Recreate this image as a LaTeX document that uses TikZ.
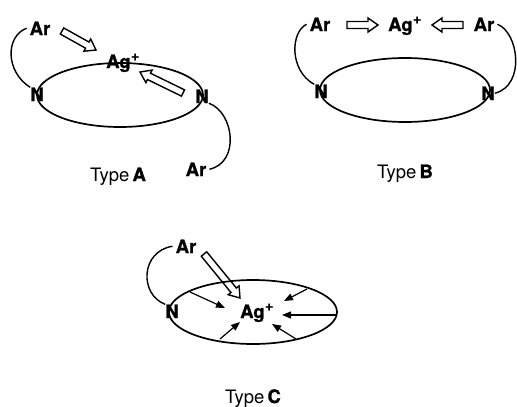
\documentclass[tikz,border=0pt]{standalone}
\usepackage{fontspec}
\setmainfont{TeX Gyre Heros}[BoldFeatures={FakeBold=1.2}]
\usetikzlibrary{calc,arrows.meta}
\tikzset{
  lbl/.style={inner sep=0pt, anchor=base, font=\fontsize{18.5}{18}\selectfont\bfseries},
  arlbl/.style={lbl, inner sep=3pt},
  typelbl/.style={inner sep=0pt, anchor=base, font=\fontsize{18.5}{18}\selectfont},
  ring/.style={line width=1.7pt},
  arm/.style={line width=1.4pt},
  hollow/.style={line width=1.4pt, line join=miter},
  push/.style={line width=1.2pt, -{Triangle[length=9pt,width=7pt]}},
}
\newcommand\agplus{Ag\hspace{0.5pt}\raisebox{7.5pt}{\fontsize{14}{14}\selectfont\bfseries +}}
% hollow arrow from #1 (tail) to #2 (tip)
\newcommand\harrow[2]{%
  \coordinate (hc) at ($(#2)!10pt!(#1)$);
  \draw[hollow] ($(#1)!3.5pt!90:(#2)$) -- ($(hc)!3.5pt!90:(#2)$) -- ($(hc)!7pt!90:(#2)$)
    -- (#2) -- ($(hc)!7pt!-90:(#2)$) -- ($(hc)!3.5pt!-90:(#2)$) -- ($(#1)!3.5pt!-90:(#2)$) -- cycle;}
\begin{document}
\begin{tikzpicture}[x=1pt,y=-1pt]
\useasboundingbox (0,0) rectangle (517,407);
% ---------------- Type A
\draw[ring] (120,95) ellipse [x radius=83, y radius=32];
\node[arlbl] (arA1) at (40,35) {Ar};
\node[lbl, anchor=base west] (agA) at (106,68) {\agplus};
\node[lbl] (nA1) at (37,101) {N};
\node[lbl] (nA2) at (202,103) {N};
\node[arlbl] (arA2) at (196,176) {Ar};
\node[typelbl] (tA) at (118,181) {Type\hspace{-2pt} \textbf{A}};
\draw[arm] (arA1.west) .. controls +(-21,8) and +(-25,-16) .. (nA1.north west);
\draw[arm] (nA2.south east) .. controls +(25,9) and +(31,-7) .. (arA2.east);
\coordinate (hA1t) at (62,31); \coordinate (hA1h) at (96,50);
\coordinate (hA2t) at (183,93); \coordinate (hA2h) at (140,72);
\harrow{hA1t}{hA1h}
\harrow{hA2t}{hA2h}
% ---------------- Type B
\draw[ring] (405,90) ellipse [x radius=85, y radius=32];
\node[arlbl] (arB1) at (320,31) {Ar};
\node[lbl, anchor=base west] (agB) at (388,31) {\agplus};
\node[arlbl] (arB2) at (484,31) {Ar};
\node[lbl] (nB1) at (321,98) {N};
\node[lbl] (nB2) at (488,100) {N};
\node[typelbl] (tB) at (405,178) {Type\hspace{-2pt} \textbf{B}};
\draw[arm] (arB1.west) .. controls +(-16,8) and +(-25,-14) .. (nB1.north west);
\draw[arm] (arB2.east) .. controls +(21,8) and +(31,-8) .. (nB2.east);
\coordinate (hB1t) at (347,25); \coordinate (hB1h) at (378,25);
\coordinate (hB2t) at (463,25); \coordinate (hB2h) at (432,25);
\harrow{hB1t}{hB1h}
\harrow{hB2t}{hB2h}
% ---------------- Type C
\draw[ring] (253,312) ellipse [x radius=84, y radius=32];
\node[arlbl] (arC) at (186,253) {Ar};
\node[lbl, anchor=base west] (agC) at (240,318) {\agplus};
\node[lbl] (nC) at (172,318) {N};
\node[typelbl] (tC) at (253,403) {Type\hspace{-2pt} \textbf{C}};
\draw[arm] (arC.west) .. controls +(-32,5) and +(-26,-10) .. (nC.north west);
\coordinate (hCt) at (204,254); \coordinate (hCh) at (240,298);
\harrow{hCt}{hCh}
\coordinate (e1) at (190,292); \coordinate (p1) at (225,308);
\coordinate (e2) at (307,289); \coordinate (p2) at (284,301);
\coordinate (e3) at (337,315); \coordinate (p3) at (282,315);
\coordinate (e4) at (296,339); \coordinate (p4) at (272,324);
\coordinate (e5) at (220,339); \coordinate (p5) at (240,322);
\draw[push] (e1) -- (p1);
\draw[push] (e2) -- (p2);
\draw[push] (e3) -- (p3);
\draw[push] (e4) -- (p4);
\draw[push] (e5) -- (p5);
\end{tikzpicture}
\end{document}
